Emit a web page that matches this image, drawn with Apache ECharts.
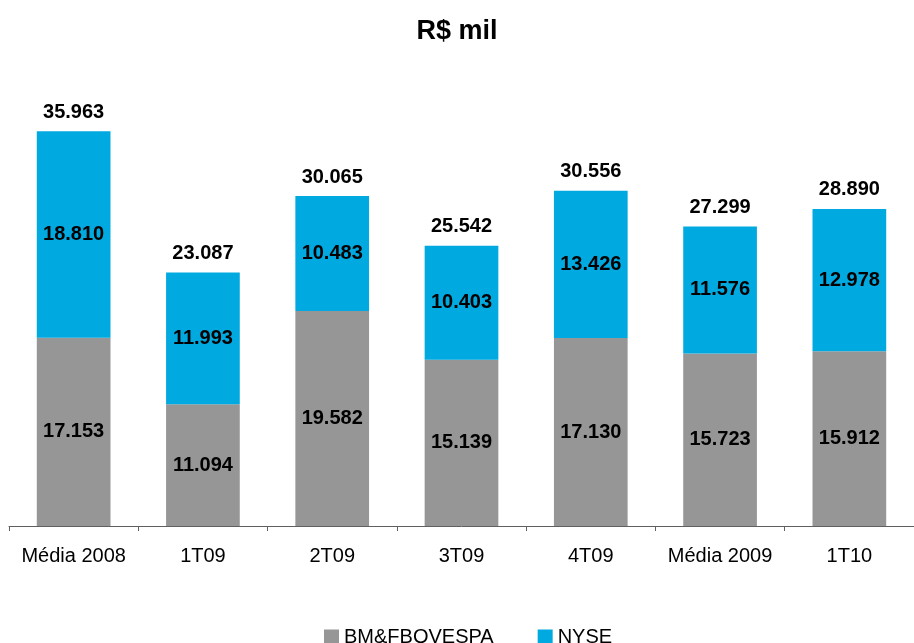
<!DOCTYPE html>
<html>
<head>
<meta charset="utf-8">
<script src="https://cdn.jsdelivr.net/npm/echarts@6/dist/echarts.min.js"></script>
<style>
  html, body { margin: 0; padding: 0; background: #fff; }
  #chart { width: 914px; height: 643px; }
</style>
</head>
<body>
<div id="chart"></div>
<script>
// categorias e valores (R$ mil)
var categories = ['Média 2008', '1T09', '2T09', '3T09', '4T09', 'Média 2009', '1T10'];
var bmfValues = [17153, 11094, 19582, 15139, 17130, 15723, 15912];
var nyseValues = [18810, 11993, 10483, 10403, 13426, 11576, 12978];
var totalValues = [35963, 23087, 30065, 25542, 30556, 27299, 28890];

var FONT = 'Liberation Sans, Arial, sans-serif';

function fmt(v) {
	return String(v).replace(/\B(?=(\d{3})+(?!\d))/g, '.');
}

var myChart = echarts.init(document.getElementById('chart'));
var option = {
	animation: false,
	title: {
		text: 'R$ mil',
		left: 'center',
		top: 13,
		textStyle: { fontFamily: FONT, fontSize: 27, fontWeight: 'bold', color: '#000' }
	},
	legend: {
		top: 622,
		left: 319,
		itemWidth: 15,
		itemHeight: 15,
		itemGap: 44,
		icon: 'rect',
		data: ['BM&FBOVESPA', 'NYSE'],
		textStyle: { fontFamily: FONT, fontSize: 20, color: '#000' }
	},
	grid: { left: 9, right: 0, top: 87, bottom: 117 },
	xAxis: {
		type: 'category',
		data: categories,
		axisLine: { lineStyle: { color: '#606060', width: 1 } },
		axisTick: { show: true, interval: 0, length: 5, lineStyle: { color: '#606060' } },
		axisLabel: { interval: 0, fontFamily: FONT, fontSize: 20, color: '#000', margin: 20 }
	},
	yAxis: {
		type: 'value',
		min: 0,
		max: 40000,
		show: false,
		splitLine: { show: false }
	},
	series: [{
		name: 'BM&FBOVESPA',
		type: 'bar',
		stack: 'total',
		barWidth: '57%',
		data: bmfValues,
		itemStyle: { color: '#969696' },
		label: {
			show: true, position: 'inside',
			fontFamily: FONT, fontSize: 20, fontWeight: 'bold', color: '#000',
			formatter: function(p) { return fmt(p.value); }
		}
	}, {
		name: 'NYSE',
		type: 'bar',
		stack: 'total',
		data: nyseValues,
		itemStyle: { color: '#00A9E0' },
		label: {
			show: true, position: 'inside',
			fontFamily: FONT, fontSize: 20, fontWeight: 'bold', color: '#000',
			formatter: function(p) { return fmt(p.value); }
		}
	}, {
		name: 'Total',
		type: 'scatter',
		data: totalValues,
		symbolSize: 0,
		silent: true,
		itemStyle: { opacity: 1 },
		label: {
			show: true, position: 'top', distance: 9,
			fontFamily: FONT, fontSize: 20, fontWeight: 'bold', color: '#000',
			formatter: function(p) { return fmt(p.value); }
		}
	}]
};
myChart.setOption(option);
</script>
</body>
</html>
